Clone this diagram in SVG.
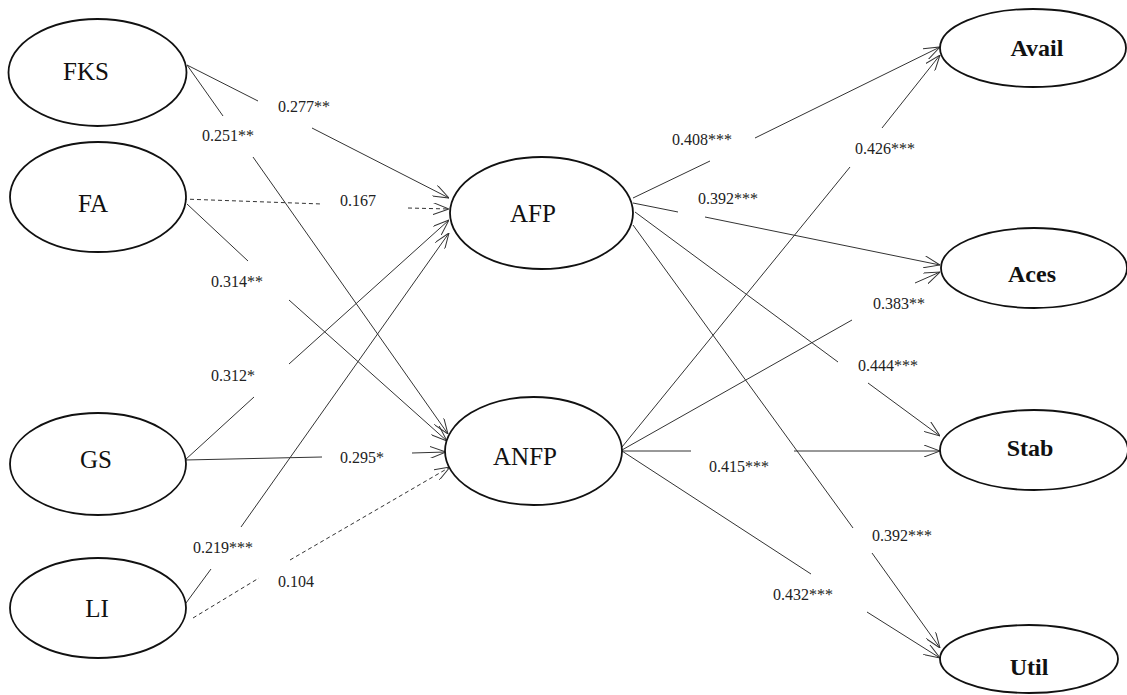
<svg xmlns="http://www.w3.org/2000/svg" width="1127" height="695" viewBox="0 0 1127 695">
<style>
.node ellipse{fill:#fff;stroke:#111;stroke-width:1.8}
.nt{font-family:"Liberation Serif","Times New Roman",serif;font-size:25px;fill:#111;text-anchor:middle}
.nb{font-family:"Liberation Serif","Times New Roman",serif;font-size:24px;font-weight:bold;fill:#111;text-anchor:middle}
.lbl{font-family:"Liberation Serif","Times New Roman",serif;font-size:16px;fill:#222}
#connectors line{stroke:#333;stroke-width:1;fill:none}
#connectors line.d{stroke-dasharray:4,3}
#connectors line.a{marker-end:url(#arr)}
</style>
<defs>
<marker id="arr" viewBox="0 0 16 12" refX="16" refY="6" markerWidth="16" markerHeight="12" markerUnits="userSpaceOnUse" orient="auto">
<path d="M0,0 L16,6 L0,12" fill="none" stroke="#333" stroke-width="1"/>
</marker>
</defs>
<rect width="1127" height="695" fill="#fff"/>
<g id="connectors">
<line x1="187" y1="65" x2="258" y2="101"/><line class="a" x1="312" y1="128" x2="449" y2="198"/>
<line x1="187" y1="65" x2="223" y2="116"/><line class="a" x1="253" y1="157" x2="448" y2="434"/>
<line class="d" x1="183" y1="199" x2="322" y2="204"/><line class="d a" x1="408" y1="208" x2="449" y2="209"/>
<line x1="187" y1="204" x2="248" y2="261"/><line class="a" x1="289" y1="300" x2="447" y2="441"/>
<line x1="185" y1="460" x2="254" y2="397"/><line class="a" x1="289" y1="364" x2="449" y2="220"/>
<line x1="185" y1="460" x2="322" y2="457"/><line class="a" x1="412" y1="453" x2="446" y2="452"/>
<line x1="186" y1="603" x2="211" y2="569"/><line class="a" x1="241" y1="527" x2="449" y2="233"/>
<line class="d" x1="193" y1="618" x2="259" y2="578"/><line class="d a" x1="290" y1="560" x2="450" y2="467"/>
<line x1="633" y1="198" x2="710" y2="161"/><line class="a" x1="755" y1="138" x2="940" y2="47"/>
<line x1="633" y1="203" x2="678" y2="212"/><line class="a" x1="705" y1="217" x2="940" y2="265"/>
<line x1="635" y1="212" x2="838" y2="362"/><line class="a" x1="868" y1="383" x2="940" y2="436"/>
<line x1="633" y1="225" x2="853" y2="528"/><line class="a" x1="872" y1="553" x2="940" y2="648"/>
<line x1="622" y1="447" x2="850" y2="167"/><line class="a" x1="882" y1="128" x2="940" y2="55"/>
<line x1="622" y1="450" x2="852" y2="320"/><line class="a" x1="915" y1="283" x2="940" y2="272"/>
<line x1="622" y1="451" x2="691" y2="451"/><line class="a" x1="794" y1="451" x2="940" y2="451"/>
<line x1="622" y1="451" x2="811" y2="574"/><line class="a" x1="867" y1="612" x2="940" y2="658"/>
</g>
<g id="labels">
<text class="lbl" x="278" y="112">0.277**</text>
<text class="lbl" x="202" y="141">0.251**</text>
<text class="lbl" x="340" y="206">0.167</text>
<text class="lbl" x="211" y="287">0.314**</text>
<text class="lbl" x="211" y="381">0.312*</text>
<text class="lbl" x="340" y="463">0.295*</text>
<text class="lbl" x="193" y="553">0.219***</text>
<text class="lbl" x="278" y="587">0.104</text>
<text class="lbl" x="672" y="145">0.408***</text>
<text class="lbl" x="698" y="204">0.392***</text>
<text class="lbl" x="855" y="154">0.426***</text>
<text class="lbl" x="873" y="309">0.383**</text>
<text class="lbl" x="858" y="371">0.444***</text>
<text class="lbl" x="709" y="472">0.415***</text>
<text class="lbl" x="872" y="541">0.392***</text>
<text class="lbl" x="773" y="600">0.432***</text>
</g>
<g id="FKS" class="node"><ellipse cx="97.5" cy="72.5" rx="89" ry="53.5"/><text class="nt" x="86" y="80">FKS</text></g>
<g id="FA" class="node"><ellipse cx="98" cy="197" rx="88" ry="55"/><text class="nt" x="93" y="212">FA</text></g>
<g id="GS" class="node"><ellipse cx="98" cy="464" rx="88" ry="51"/><text class="nt" x="96" y="468">GS</text></g>
<g id="LI" class="node"><ellipse cx="98" cy="608" rx="88" ry="50"/><text class="nt" x="97" y="617">LI</text></g>
<g id="AFP" class="node"><ellipse cx="541.5" cy="213" rx="91.5" ry="56"/><text class="nt" x="533" y="222">AFP</text></g>
<g id="ANFP" class="node"><ellipse cx="533.5" cy="451" rx="88.5" ry="54"/><text class="nt" x="525" y="465">ANFP</text></g>
<g id="Avail" class="node"><ellipse cx="1033" cy="48" rx="93" ry="39"/><text class="nb" x="1037" y="56">Avail</text></g>
<g id="Aces" class="node"><ellipse cx="1034" cy="268" rx="93" ry="40"/><text class="nb" x="1032" y="282">Aces</text></g>
<g id="Stab" class="node"><ellipse cx="1034" cy="450" rx="94" ry="40"/><text class="nb" x="1030" y="456">Stab</text></g>
<g id="Util" class="node"><ellipse cx="1029" cy="659" rx="89" ry="34"/><text class="nb" x="1029" y="675">Util</text></g>
</svg>
